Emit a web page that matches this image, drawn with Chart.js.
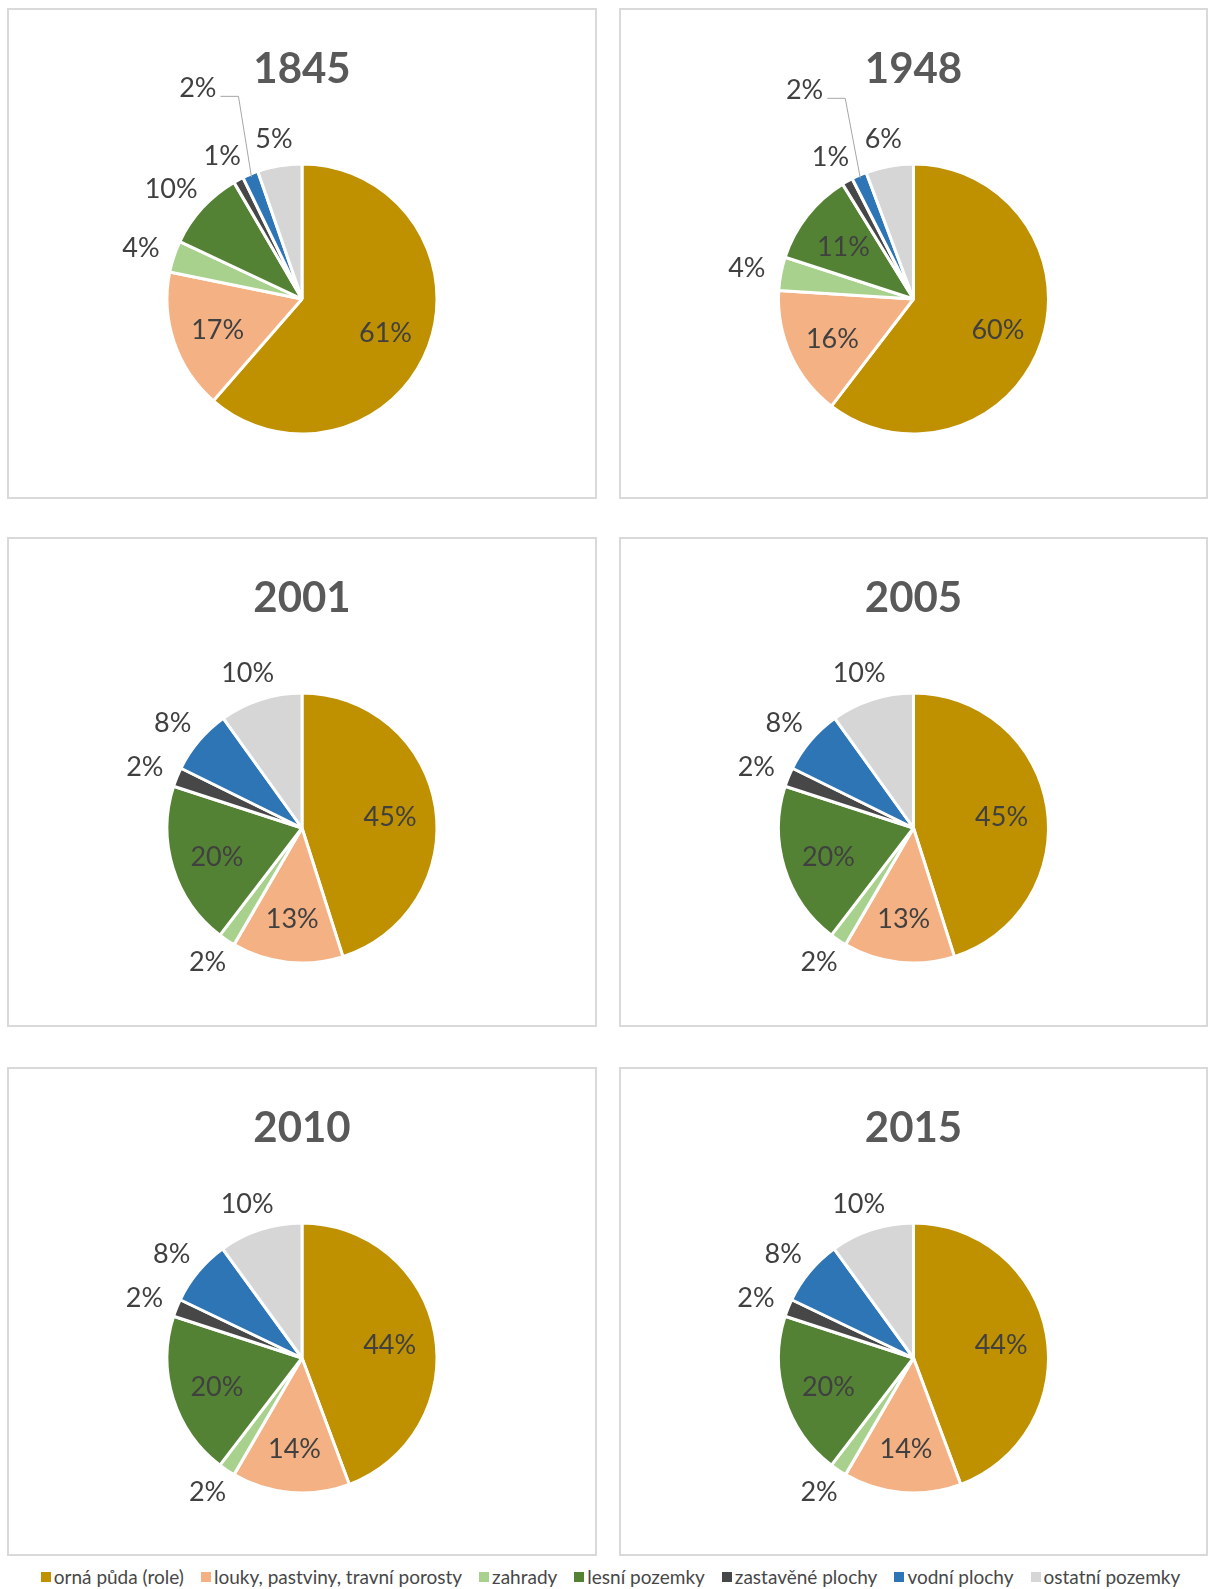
<!DOCTYPE html>
<html>
<head>
<meta charset="utf-8">
<script src="https://cdn.jsdelivr.net/npm/chart.js@4.4.0/dist/chart.umd.min.js"></script>
<style>
body { margin: 0; background: #fff; width: 1211px; height: 1589px; position: relative; overflow: hidden; font-family: Lato, sans-serif; }
.panel { position: absolute; border: 2px solid #d9d9d9; box-sizing: border-box; background: #fff; }
.panel canvas { display: block; }
#legend { position: absolute; left: 0; top: 1566px; width: 1221px; display: flex; justify-content: center; font-size: 19px; color: #474747; line-height: 22px; white-space: nowrap; }
.item { display: flex; align-items: center; margin: 0 8.5px; }
.box { width: 10px; height: 10px; margin-right: 3px; }
</style>
</head>
<body>
<div id="legend"></div>
<script>
// categories, same order in every pie (clockwise from 12 o'clock)
var categories = ['orná půda (role)', 'louky, pastviny, travní porosty', 'zahrady', 'lesní pozemky',
                  'zastavěné plochy', 'vodní plochy', 'ostatní pozemky'];
var years = ['1845', '1948', '2001', '2005', '2010', '2015'];

// shares in percent
var values1845 = [61.4, 16.8, 3.8, 9.6, 1.2, 1.9, 5.3];
var values1948 = [60.4, 15.6, 4.0, 11.2, 1.3, 1.8, 5.7];
var values2001 = [45.1, 13.3, 2.0, 19.6, 2.3, 7.8, 9.9];
var values2005 = [45.1, 13.3, 2.0, 19.6, 2.3, 7.8, 9.9];
var values2010 = [44.3, 14.1, 2.0, 19.6, 2.1, 7.9, 10.0];
var values2015 = [44.3, 14.1, 2.0, 19.6, 2.1, 7.9, 10.0];
var allValues = [values1845, values1948, values2001, values2005, values2010, values2015];

var colors = ['#BF9000', '#F4B183', '#A9D18E', '#548235', '#474747', '#2E75B6', '#D6D6D6'];

// panel boxes on the page
var panels = [
  {x: 7, y: 8, w: 590, h: 491}, {x: 619, y: 8, w: 589, h: 491},
  {x: 7, y: 537, w: 590, h: 490}, {x: 619, y: 537, w: 589, h: 490},
  {x: 7, y: 1067, w: 590, h: 489}, {x: 619, y: 1067, w: 589, h: 489}
];

//draw % labels: big slices inside, small ones outside, with leader if they collide
var pieLabels = {
  id: 'pieLabels',
  afterDatasetsDraw: function(chart) {
    var ctx = chart.ctx;
    var meta = chart.getDatasetMeta(0);
    var data = chart.data.datasets[0].data;
    var total = data.reduce(function(a, b) { return a + b; }, 0);
    var placed = [];
    ctx.save();
    ctx.font = '27px Lato';
    ctx.fillStyle = '#404040';
    ctx.textAlign = 'center';
    ctx.textBaseline = 'middle';
    meta.data.forEach(function(arc, i) {
      var p = arc.getProps(['x', 'y', 'startAngle', 'endAngle', 'outerRadius'], true);
      var mid = (p.startAngle + p.endAngle) / 2;
      var c = Math.cos(mid), s = Math.sin(mid);
      var pct = Math.round(data[i] / total * 100);
      var text = pct + '%';
      var hw = ctx.measureText(text).width / 2 + 2, hh = 13;
      var lx, ly;
      if (pct > 10) {
        lx = p.x + 0.66 * p.outerRadius * c;
        ly = p.y + 0.66 * p.outerRadius * s + 3;
        ctx.fillText(text, lx, ly);
        return;
      }
      lx = p.x + (p.outerRadius + 14) * c + hw * c;
      ly = p.y + (p.outerRadius + 14) * s + hh * s;
      var hit = placed.some(function(b) {
        return Math.abs(b.x - lx) < b.hw + hw && Math.abs(b.y - ly) < b.hh + hh;
      });
      if (hit) {
        lx += 66 * c + (c < 0 ? -14 : 14);
        ly += 66 * s;
        var sx = c < 0 ? lx + hw + 2 : lx - hw - 2;
        var hx = c < 0 ? sx + 18 : sx - 18;
        ctx.save();
        ctx.strokeStyle = '#A6A6A6';
        ctx.lineWidth = 1;
        ctx.beginPath();
        ctx.moveTo(sx, ly + 8);
        ctx.lineTo(hx, ly + 8);
        ctx.lineTo(p.x + (p.outerRadius - 3) * c, p.y + (p.outerRadius - 3) * s);
        ctx.stroke();
        ctx.restore();
      }
      placed.push({x: lx, y: ly, hw: hw, hh: hh});
      ctx.fillText(text, lx, ly);
    });
    ctx.restore();
  }
};

panels.forEach(function(pn, k) {
  var div = document.createElement('div');
  div.className = 'panel';
  div.style.left = pn.x + 'px';
  div.style.top = pn.y + 'px';
  div.style.width = pn.w + 'px';
  div.style.height = pn.h + 'px';
  var cv = document.createElement('canvas');
  cv.width = pn.w - 4;
  cv.height = pn.h - 4;
  div.appendChild(cv);
  document.body.appendChild(div);

  new Chart(cv.getContext('2d'), {
    type: 'pie',
    data: {
      labels: categories,
      datasets: [{
        data: allValues[k],
        backgroundColor: colors,
        borderColor: '#ffffff',
        borderWidth: 3,
        radius: 135
      }]
    },
    options: {
      responsive: false,
      animation: false,
      radius: 135,
      layout: { padding: { top: 0, left: 0, right: 0, bottom: cv.height - 478 } },
      plugins: {
        legend: { display: false },
        tooltip: { enabled: false },
        title: {
          display: true,
          text: years[k],
          color: '#595959',
          font: { family: 'Lato', size: 42, weight: 'bold', lineHeight: 1.2 },
          padding: { top: 34, bottom: 15.6 }
        }
      }
    },
    plugins: [pieLabels]
  });
});

// legend under all the pies
var lg = document.getElementById('legend');
categories.forEach(function(name, i) {
  var it = document.createElement('span');
  it.className = 'item';
  var b = document.createElement('span');
  b.className = 'box';
  b.style.background = colors[i];
  it.appendChild(b);
  it.appendChild(document.createTextNode(name));
  lg.appendChild(it);
});
</script>
</body>
</html>
